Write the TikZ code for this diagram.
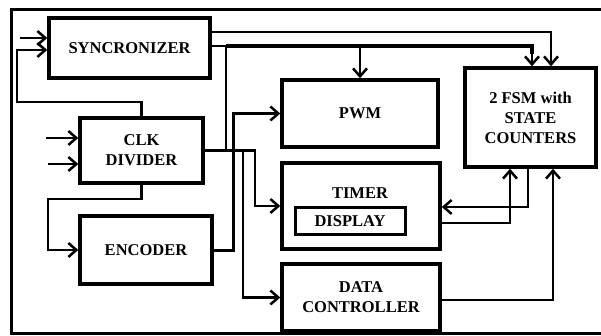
\documentclass[tikz,border=0pt]{standalone}
\usepackage{fontspec}
\setmainfont{Liberation Serif}
\usetikzlibrary{arrows.meta}
\begin{document}
\begin{tikzpicture}[x=1pt,y=-1pt,
  blk/.style={draw,line width=3.5pt,rectangle,inner sep=0pt,align=center,
    font=\fontsize{16.5}{20}\selectfont\bfseries},
  lbl/.style={inner sep=0pt,align=center,font=\fontsize{16.5}{20}\selectfont\bfseries},
  conn/.style={line width=2.5pt},
  arr/.style={conn,-{Straight Barb[length=8pt,width=14pt,line width=2.5pt]}},
]
\useasboundingbox (0,0) rectangle (601,336);
\fill[white] (0,0) rectangle (601,336);
% outer frame
\draw[line width=3pt] (602,10) -- (11,10) -- (11,333) -- (602,333);

% blocks
\node[blk,minimum width=161pt,minimum height=60pt] (sync) at (129.5,48) {SYNCRONIZER};
\node[blk,minimum width=123pt,minimum height=65pt] (clk) at (141.5,150.5) {CLK\\DIVIDER};
\node[blk,minimum width=132pt,minimum height=68pt] (enc) at (146,250) {ENCODER};
\node[blk,minimum width=156pt,minimum height=67pt] (pwm) at (360,113.5) {PWM};
\node[blk,minimum width=158pt,minimum height=86pt] (timer) at (361,206) {};
\node[lbl] (timerlbl) at (360,193) {TIMER};
\node[blk,line width=3pt,minimum width=110pt,minimum height=27pt] (disp) at (350,221.5) {DISPLAY};
\node[blk,minimum width=158pt,minimum height=67pt] (data) at (361,297.5) {DATA\\CONTROLLER};
\node[blk,minimum width=131pt,minimum height=99pt] (fsm) at (530.5,117.5) {2 FSM with\\STATE\\COUNTERS};

% helper coordinates
\coordinate (in1) at (20,38);
\coordinate (in2) at (46,138);
\coordinate (in3) at (48,164);
\coordinate (fbA) at (17,102);
\coordinate (fbB) at (17,50);
\coordinate (ceA) at (48,199);
\coordinate (xe) at (233,180);
\coordinate (xt) at (255,180);
\coordinate (xd) at (243,250);
\coordinate (xs) at (226,0);
\coordinate (y32) at (0,32);
\coordinate (y46) at (0,46);
\coordinate (fA) at (532,0);
\coordinate (fB) at (551,0);
\coordinate (c528) at (528,207);
\coordinate (c510) at (510,223);
\coordinate (c553) at (553,300);

% inputs
\draw[arr] (in1) -- (in1 -| sync.west);
\draw[arr] (in2) -- (in2 -| clk.west);
\draw[arr] (in3) -- (in3 -| clk.west);

% feedback clk -> sync
\draw[arr] (clk.north) |- (fbA) -- (fbB) -- (fbB -| sync.west);
% clk -> encoder
\draw[arr] (clk.south) |- (ceA) |- (enc.west);
% encoder -> pwm
\draw[arr,line width=3pt] (enc.east) -| (xe) |- (pwm.west);
% clk -> timer, data
\draw[arr] (clk.east) -| (xt) |- (timer.west);
\draw[arr] (clk.east) -| (xd) |- (data.west);
% clk -> sync output bus
\draw[line width=2pt] (xs |- clk.east) -- (xs |- y46);

% sync outputs
\draw[arr] (sync.east |- y32) -| (fB |- fsm.north);
\draw[conn] (sync.east |- y46) -- (xs |- y46);
\draw[line width=4.5pt] (xs |- y46) -| ([yshift=12pt]fA |- fsm.north);
\draw[arr] ([yshift=14pt]fA |- fsm.north) -- (fA |- fsm.north);
\draw[arr] (pwm.north |- y46) -- (pwm.north);

% fsm <-> timer
\draw[arr] (c528 |- fsm.south) -- (c528) -- (c528 -| timer.east);
\draw[arr] (c510 -| timer.east) -- (c510) -- (c510 |- fsm.south);
% data -> fsm
\draw[arr] (c553 -| data.east) -- (c553) -- (c553 |- fsm.south);
\end{tikzpicture}
\end{document}
